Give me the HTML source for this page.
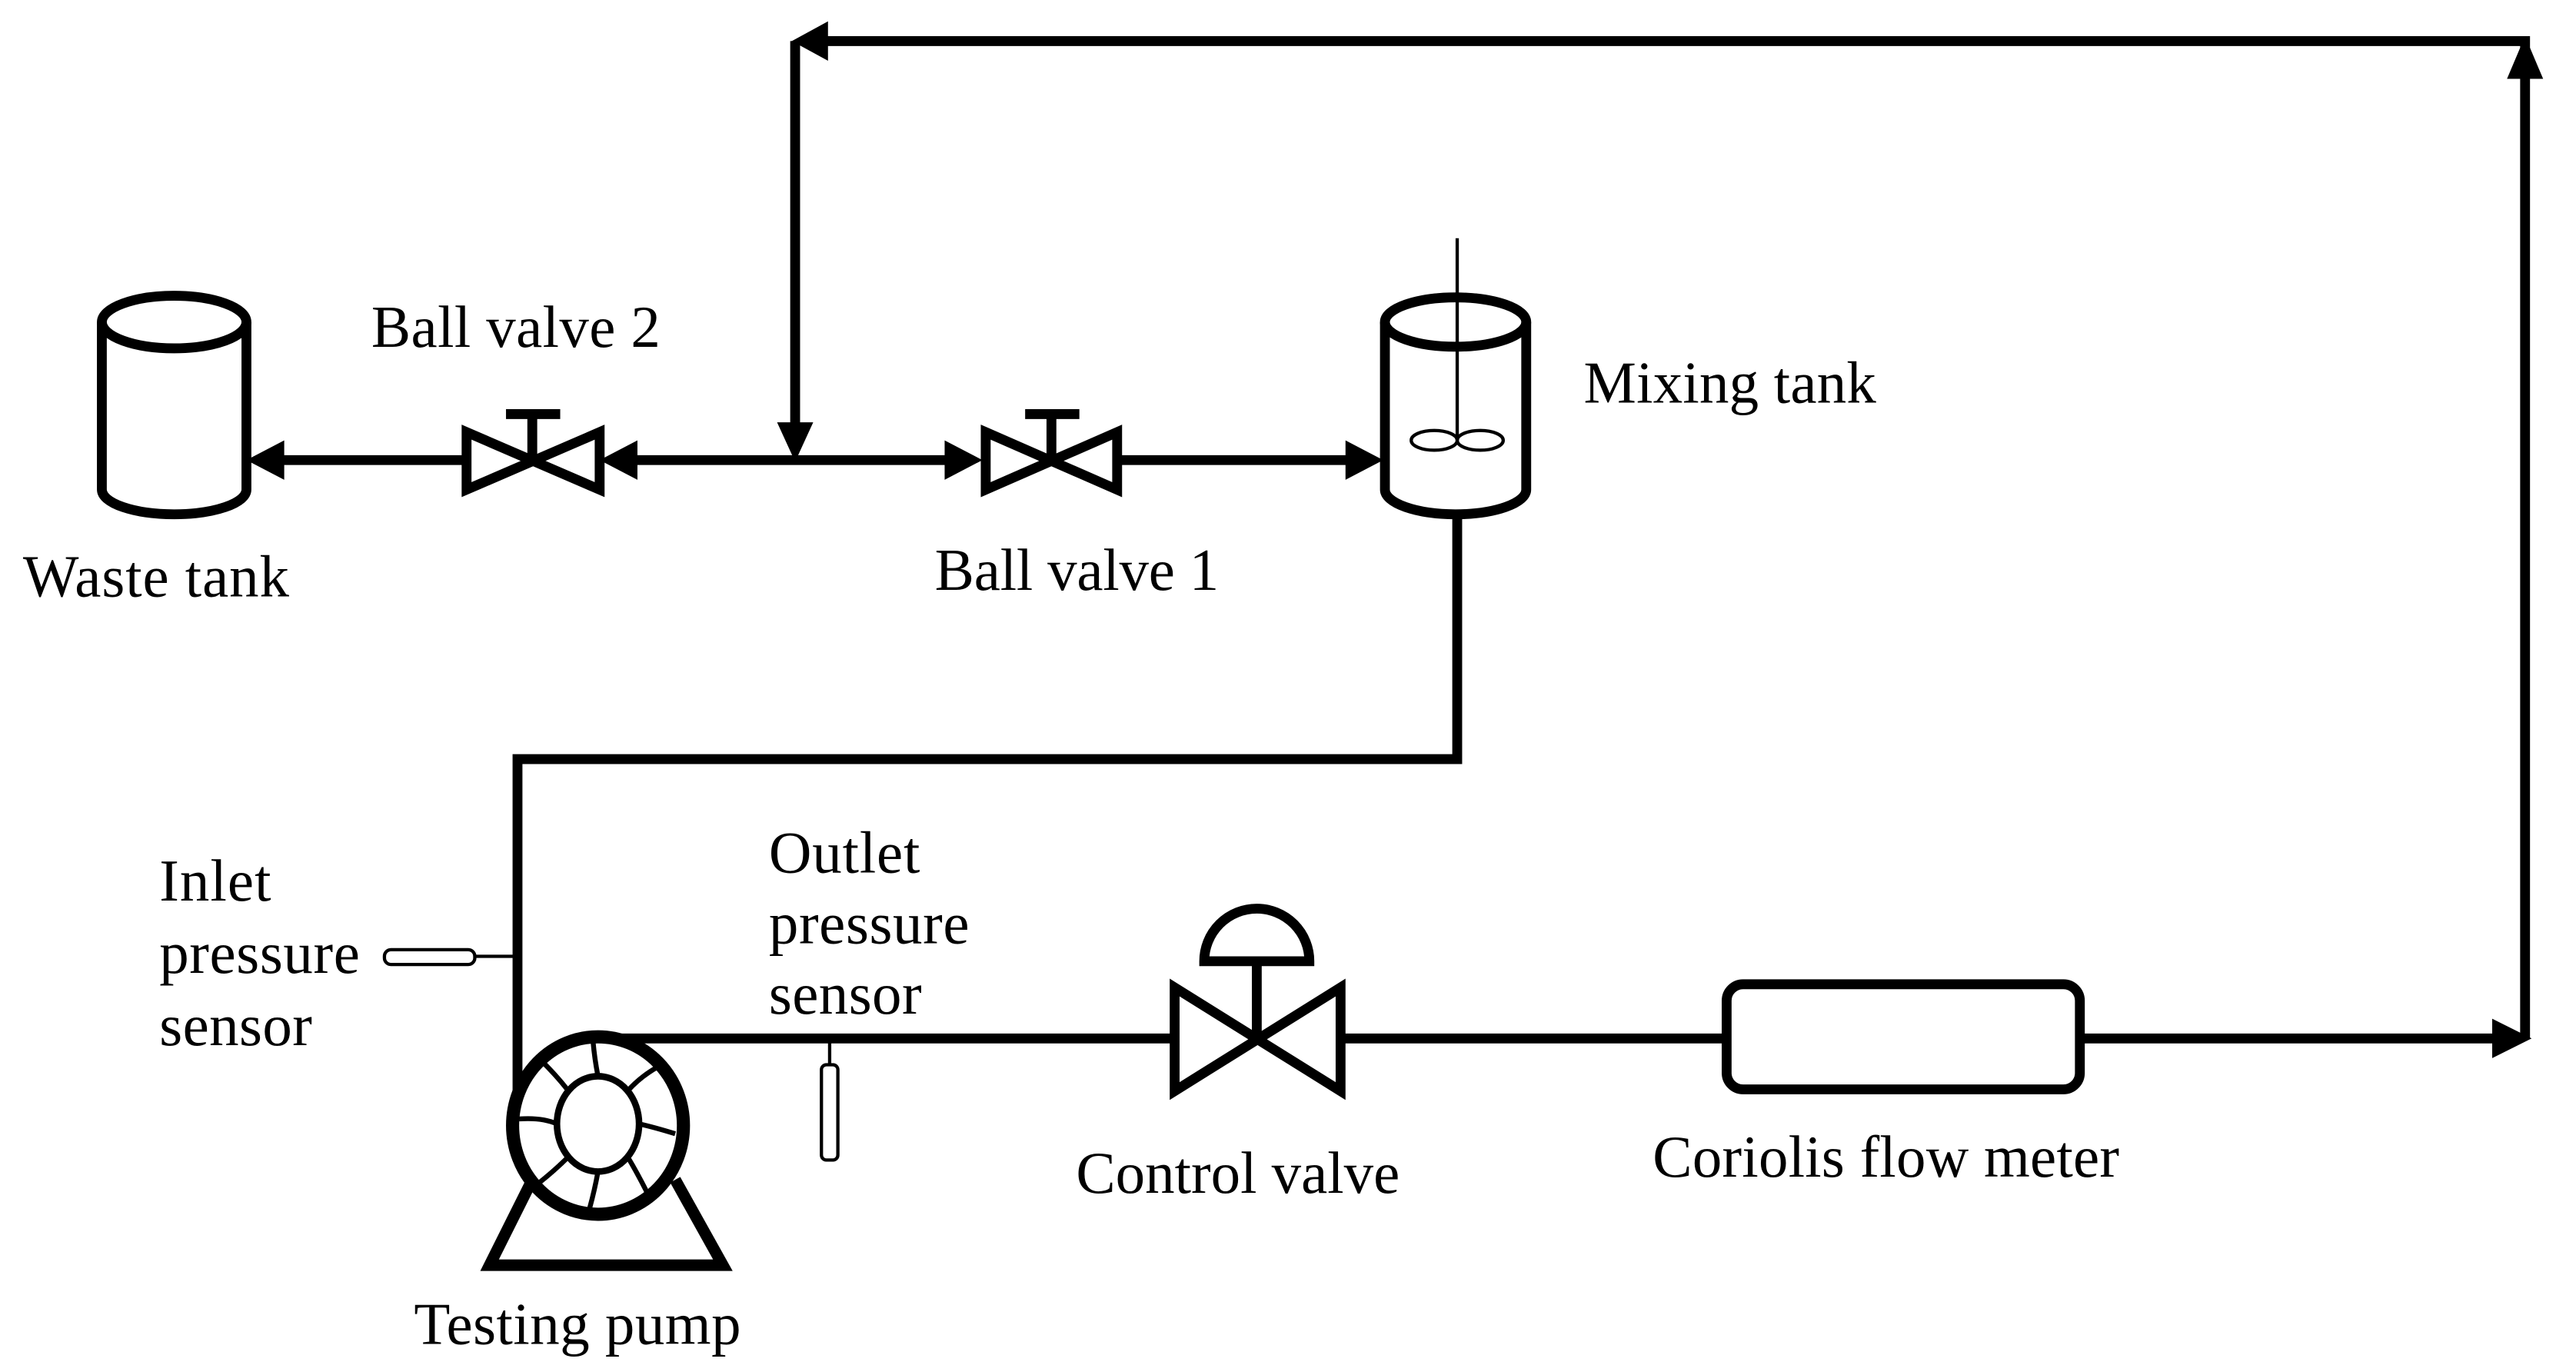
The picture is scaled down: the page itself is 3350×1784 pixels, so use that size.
<!DOCTYPE html>
<html><head><meta charset="utf-8"><style>
html,body{margin:0;padding:0;background:#fff}
svg{display:block}
text{font-family:"Liberation Serif",serif;font-size:36px;fill:#000}
</style></head><body>
<svg width="3350" height="1784" viewBox="0 0 1568 835" preserveAspectRatio="none" xmlns="http://www.w3.org/2000/svg">
<g fill="none" stroke="#000" stroke-width="6">
<polyline points="1537,632 1537,25 495,25"/>
<polyline points="484,25 484,262"/>
<line x1="165" y1="280" x2="283" y2="280"/>
<line x1="380" y1="280" x2="585" y2="280"/>
<line x1="680" y1="280" x2="826" y2="280"/>
<polyline points="887,312 887,462 315,462 315,706" />
<path d="M328,650 Q340,632 372,632 L714,632"/>
<line x1="817" y1="632" x2="1050" y2="632"/>
<line x1="1267" y1="632" x2="1522" y2="632"/>
</g>
<g fill="#000">
<polygon points="482,25 504,13 504,37"/>
<polygon points="1537,22 1526,48 1548,48"/>
<polygon points="484,281 473,257 495,257"/>
<polygon points="150,280 173,268 173,292"/>
<polygon points="365,280 388,268 388,292"/>
<polygon points="598,280 575,268 575,292"/>
<polygon points="842,280 819,268 819,292"/>
<polygon points="1541,632 1517,620 1517,644"/>
</g>
<g fill="none" stroke="#000" stroke-width="6" stroke-linejoin="miter">
<polygon points="284,263 365,298 365,263 284,298"/>
<line x1="324" y1="280" x2="324" y2="252"/><line x1="308" y1="252" x2="341" y2="252"/>
<polygon points="600,263 680,298 680,263 600,298"/>
<line x1="640" y1="280" x2="640" y2="252"/><line x1="624" y1="252" x2="657" y2="252"/>
<polygon points="715,601 816,664 816,601 715,664"/>
<line x1="765" y1="632" x2="765" y2="585"/>
<path d="M733,585 A32,32 0 0 1 797,585 Z"/>
<rect x="1051" y="599" width="215" height="64" rx="10"/>
<path d="M62,196 L62,298 A44,15 0 0 0 150,298 L150,196"/>
<ellipse cx="106" cy="196" rx="44" ry="16"/>
<path d="M843,196 L843,298 A43,15 0 0 0 929,298 L929,196"/>
<ellipse cx="886" cy="196" rx="43" ry="15"/>
<polyline points="324,718 298,770 440,770 411,718" stroke-width="7"/>
<ellipse cx="364" cy="685" rx="52" ry="54" stroke-width="8" fill="#fff"/>
</g>
<g fill="none" stroke="#000" stroke-width="2">
<line x1="887" y1="145" x2="887" y2="268"/>
<ellipse cx="873" cy="268" rx="14" ry="6"/><ellipse cx="901" cy="268" rx="14" ry="6"/>
<ellipse cx="364" cy="684" rx="25" ry="29" stroke-width="4"/>
<path d="M339,684 Q330,680 316,681 M389,684 Q398,686 411,690 M364,655 Q362,645 361,634 M364,713 Q362,724 359,735 M346,664 Q340,656 330,646 M382,664 Q390,655 401,649 M346,704 Q338,712 328,720 M382,704 Q388,714 394,726" stroke-width="3"/>
<rect x="234" y="578" width="55" height="9" rx="4"/>
<line x1="289" y1="582" x2="315" y2="582"/>
<rect x="500" y="648" width="10" height="58" rx="3"/>
<line x1="505" y1="632" x2="505" y2="648"/>
</g>
<text x="226" y="211" textLength="176">Ball valve 2</text>
<text x="14" y="363" textLength="162">Waste tank</text>
<text x="569" y="359" textLength="173">Ball valve 1</text>
<text x="964" y="245" textLength="178">Mixing tank</text>
<text x="97" y="548" textLength="68">Inlet</text>
<text x="97" y="592" textLength="122">pressure</text>
<text x="97" y="636" textLength="93">sensor</text>
<text x="468" y="531" textLength="92">Outlet</text>
<text x="468" y="574" textLength="122">pressure</text>
<text x="468" y="617" textLength="93">sensor</text>
<text x="655" y="726" textLength="197">Control valve</text>
<text x="1006" y="716" textLength="284">Coriolis flow meter</text>
<text x="252" y="818" textLength="199">Testing pump</text>
</svg>
</body></html>
